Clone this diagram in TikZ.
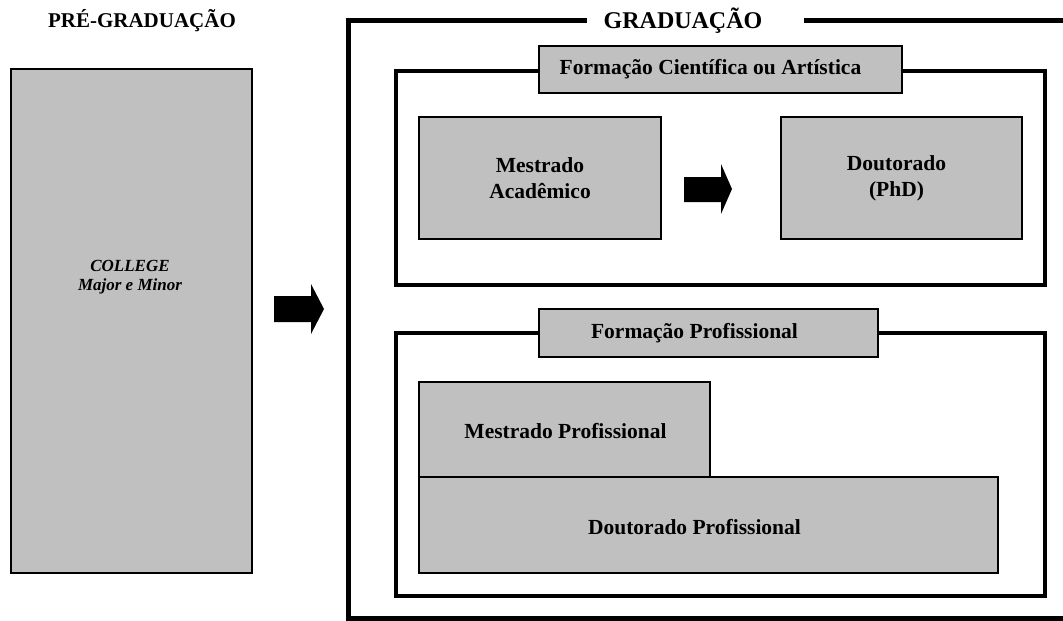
\documentclass[tikz,border=0pt]{standalone}
\usepackage{fontspec}
\setmainfont{Liberation Serif}
\definecolor{boxgray}{HTML}{C0C0C0}
\begin{document}
\begin{tikzpicture}[x=1pt,y=-1pt,
  box/.style={draw=black, line width=1.6pt, fill=boxgray, inner sep=0pt},
  boxtext/.style={font=\bfseries\fontsize{21.5}{26}\selectfont, align=center, inner sep=0pt},
  frame/.style={draw=black, line width=4pt, inner sep=0pt},
  outer/.style={draw=black, line width=5pt},
  title/.style={font=\bfseries\fontsize{21}{25}\selectfont, inner sep=0pt},
  blockarrow/.style={fill=black}]
\useasboundingbox (0,0) rectangle (1063,621);

% pre-graduation column
\node[title] (pretitle) at (142,21) {PRÉ-GRADUAÇÃO};
\node[box, minimum width=241pt, minimum height=504pt] (college) at (131.5,321) {};
\node[font=\bfseries\itshape\fontsize{17}{19}\selectfont, align=center, inner sep=0pt]
  (collegetxt) at (130,277) {COLLEGE\\Major e Minor};

% arrow into graduation
\fill[blockarrow] (274,296) -- (311,296) -- (311,284) -- (324,309) -- (311,334)
  -- (311,322) -- (274,322) -- cycle;

% graduation outer frame, open on the right
\coordinate (gl) at (584,20);
\coordinate (gr) at (804,20);
\draw[outer, line cap=rect] (gl) -- (348,20) -- (348,618) -- (1075,618);
\draw[outer] (gr) -- (1075,20);
\node[font=\bfseries\fontsize{24}{27}\selectfont, inner sep=0pt] (gradtitle) at (683,21) {GRADUAÇÃO};

% scientific / artistic track
\node[frame, minimum width=649pt, minimum height=214pt] (f1) at (720.5,178) {};
\node[box, minimum width=363pt, minimum height=47pt] (l1) at (720.5,69.5) {};
\node[boxtext] (l1txt) at ([xshift=-10pt]l1.center) {Formação Científica ou Artística};
\node[box, minimum width=242pt, minimum height=122pt] (ma) at (540,178) {};
\node[boxtext] (matxt) at (ma.center) {Mestrado\\Acadêmico};
\node[box, minimum width=241pt, minimum height=122pt] (dr) at (901.5,178) {};
\node[boxtext] (drtxt) at ([xshift=-5pt]dr.center) {Doutorado\\(PhD)};
\fill[blockarrow] (684,177) -- (721,177) -- (721,164) -- (732,189) -- (721,214)
  -- (721,202) -- (684,202) -- cycle;

% professional track
\node[frame, minimum width=649pt, minimum height=263pt] (f2) at (720.5,464.5) {};
\node[box, minimum width=339pt, minimum height=48pt] (l2) at (708.5,333) {};
\node[boxtext] (l2txt) at ([xshift=-14pt]l2.center) {Formação Profissional};
\node[box, minimum width=291pt, minimum height=95pt] (mp) at (564.5,429.5) {};
\node[boxtext] (mptxt) at ([xshift=1pt,yshift=-2pt]mp.center) {Mestrado Profissional};
\node[box, minimum width=579pt, minimum height=96pt] (dp) at (708.5,525) {};
\node[boxtext] (dptxt) at ([xshift=-14pt,yshift=-2pt]dp.center) {Doutorado Profissional};
\end{tikzpicture}
\end{document}
